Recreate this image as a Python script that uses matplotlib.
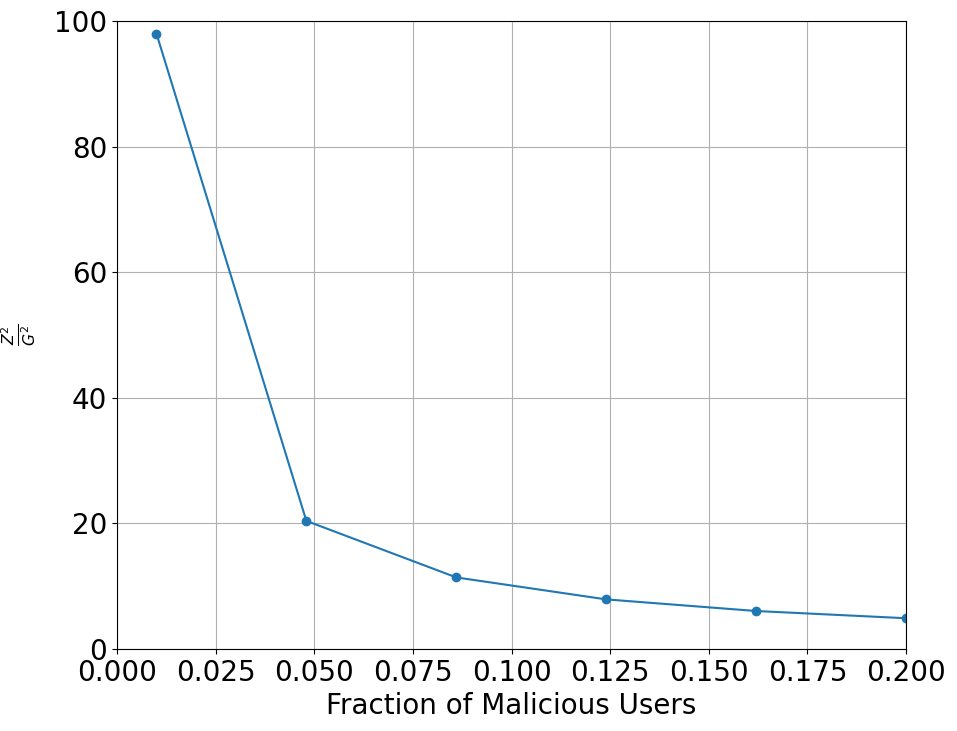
import matplotlib
matplotlib.use('Agg')
import matplotlib.pyplot as plt

# Fraction of malicious users vs Z^2/G^2
fraction = [0.01, 0.048, 0.086, 0.124, 0.162, 0.2]
ratio = [98.0, 20.4, 11.4, 7.9, 6.05, 4.9]

fig = plt.figure(figsize=(9.57, 7.31), dpi=100)
ax = fig.add_axes([117 / 957, 1 - 649 / 731, (906 - 117) / 957, (649 - 21) / 731])

ax.plot(fraction, ratio, marker='o', color='#1f77b4', linewidth=1.5)

ax.set_xlim(0, 0.2)
ax.set_ylim(0, 100)
ax.set_xticks([0, 0.025, 0.05, 0.075, 0.1, 0.125, 0.15, 0.175, 0.2])
ax.tick_params(labelsize=20)
ax.set_xlabel('Fraction of Malicious Users', fontsize=20)
ax.set_ylabel(r'$\frac{Z^2}{G^2}$', fontsize=16)
ax.yaxis.set_label_coords(-0.1, 0.5)
ax.grid(True)

fig.savefig('out.png', dpi=100)
